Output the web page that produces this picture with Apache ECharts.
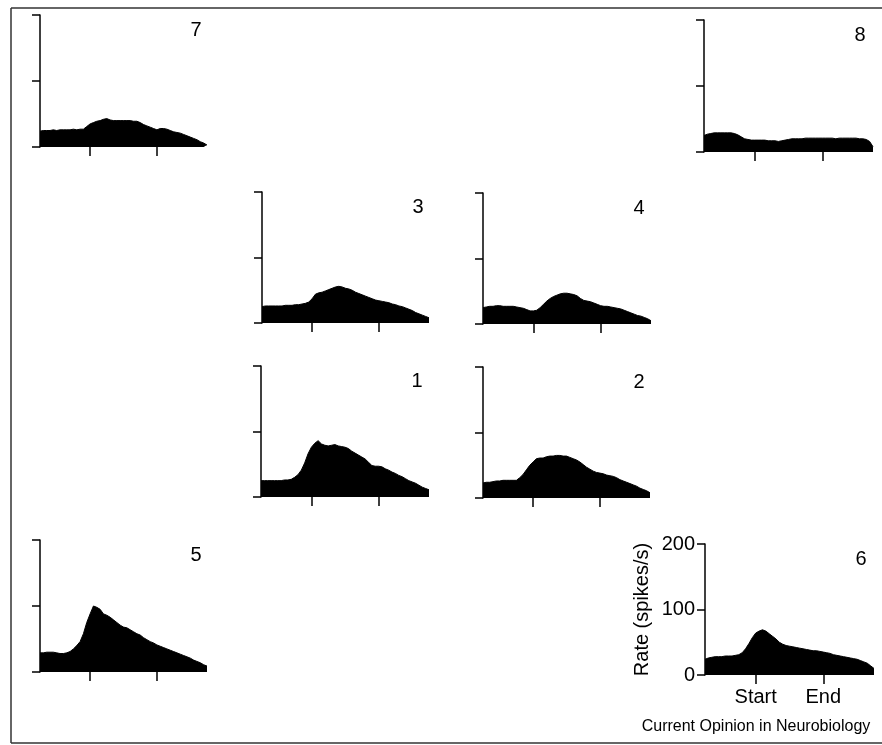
<!DOCTYPE html>
<html>
<head>
<meta charset="utf-8">
<script src="https://cdn.jsdelivr.net/npm/echarts@6/dist/echarts.min.js"></script>
<style>
html,body{margin:0;padding:0;background:#fff;}
#chart{width:882px;height:745px;}
</style>
</head>
<body>
<div id="chart"></div>
<script>
// Time relative to movement (0 = Start, 1 = End)
const times = [-0.75,-0.7,-0.65,-0.6,-0.55,-0.5,-0.45,-0.4,-0.35,-0.3,-0.25,-0.2,-0.15,-0.1,-0.05,0,0.05,0.1,0.15,0.2,0.25,0.3,0.35,0.4,0.45,0.5,0.55,0.6,0.65,0.7,0.75,0.8,0.85,0.9,0.95,1,1.05,1.1,1.15,1.2,1.25,1.3,1.35,1.4,1.45,1.5,1.55,1.6,1.65,1.7,1.75];
const xTickValues = [0, 1];
const xTickLabels = ['Start', 'End'];
const yTicks = [0, 100, 200];
const panelNames = ['1','2','3','4','5','6','7','8'];

// Firing rate (spikes/s) per direction
const rate1 = [25,25,25,25,25,25,25,26,26,27,30,34,41,52,66,76,82,86,81,79,78,79,80,78,77,76,74,70,67,64,61,58,53,48,47,47,46,43,41,38,36,33,31,28,25,23,21,18,15,13,11];
const rate2 = [23,24,24,25,26,26,27,27,27,27,27,31,36,43,50,55,60,61,61,63,64,64,65,65,64,64,62,60,58,55,51,47,44,41,39,38,37,35,34,33,31,28,26,24,22,20,18,15,13,11,8];
const rate3 = [25,26,26,26,26,26,26,27,27,27,28,28,29,30,32,37,44,46,47,49,51,53,55,56,55,53,52,50,47,45,43,41,39,37,35,34,33,32,31,29,28,26,25,23,21,19,16,14,12,10,8];
const rate4 = [25,26,27,27,28,28,27,27,27,27,26,25,24,22,20,20,21,25,30,35,39,42,44,46,47,47,46,45,43,39,36,35,34,32,30,28,27,27,26,25,24,23,21,19,17,15,13,12,10,8,5];
const rate5 = [29,29,30,30,30,29,28,28,29,31,35,40,46,58,75,88,100,98,95,88,86,83,79,75,71,68,67,64,61,58,56,52,49,46,44,41,39,37,35,33,31,29,27,25,23,21,18,16,14,11,9];
const rate6 = [24,26,27,28,28,28,29,29,29,30,31,34,40,48,57,64,67,69,67,63,59,55,50,47,45,44,43,42,41,40,39,38,37,37,36,35,34,33,31,30,29,28,27,26,25,24,22,20,18,14,10];
const rate7 = [24,25,25,25,26,25,26,26,26,26,27,26,27,27,31,35,37,39,40,42,43,41,40,40,40,40,40,40,39,39,37,34,32,30,28,26,28,28,27,25,23,22,21,19,17,15,13,11,8,6,3];
const rate8 = [25,27,28,29,29,29,29,29,29,28,26,23,20,19,18,18,18,18,18,17,17,17,16,17,18,19,20,20,20,20,21,21,21,21,21,21,21,21,21,20,21,21,21,21,21,21,20,20,19,16,8];
const rates = [rate1, rate2, rate3, rate4, rate5, rate6, rate7, rate8];

// Layout (pixels) of each panel, in the same order as panelNames
const layout = [
  {left:261, top:366, width:168, height:131},
  {left:483, top:367, width:167, height:131},
  {left:262, top:192, width:167, height:131},
  {left:483, top:193, width:168, height:131},
  {left:40,  top:540, width:167, height:132},
  {left:705, top:544, width:169, height:131},
  {left:40,  top:15,  width:167, height:132},
  {left:704, top:20,  width:169, height:132}
];
const labeledPanel = '6';

const FONT = '"Liberation Sans", Arial, Helvetica, sans-serif';
const chart = echarts.init(document.getElementById('chart'), null, {renderer:'canvas'});

const grids = [], xAxes = [], yAxes = [], series = [], graphics = [];
panelNames.forEach((name, i) => {
  const L = layout[i];
  const lab = name === labeledPanel;
  grids.push({left:L.left, top:L.top, width:L.width, height:L.height, containLabel:false});
  xAxes.push({
    gridIndex:i, type:'value', min:times[0], max:times[times.length-1],
    axisLine:{show:false, onZero:false},
    splitLine:{show:false},
    axisTick:{show:true, customValues:xTickValues, length:9, lineStyle:{color:'#000', width:1.5}},
    axisLabel:{show:lab, customValues:xTickValues, margin:12, color:'#000', fontSize:20, fontFamily:FONT,
      formatter: v => xTickLabels[xTickValues.indexOf(v)] || ''}
  });
  yAxes.push({
    gridIndex:i, type:'value', min:yTicks[0], max:yTicks[yTicks.length-1], interval:yTicks[1]-yTicks[0],
    axisLine:{show:true, onZero:false, lineStyle:{color:'#000', width:1.5}},
    splitLine:{show:false},
    axisTick:{show:true, length:8, lineStyle:{color:'#000', width:1.5}},
    axisLabel:{show:lab, margin:10, color:'#000', fontSize:20, fontFamily:FONT},
    name: lab ? 'Rate (spikes/s)' : '',
    nameLocation:'middle', nameRotate:90, nameGap:53,
    nameTextStyle:{color:'#000', fontSize:20, fontFamily:FONT}
  });
  series.push({
    type:'line', xAxisIndex:i, yAxisIndex:i,
    data: times.map((t, k) => [t, rates[i][k]]),
    showSymbol:false, symbol:'none', silent:true,
    lineStyle:{color:'#000', width:1},
    areaStyle:{color:'#000', opacity:1},
    z:1
  });
  graphics.push({
    type:'text', x:L.left + 156, y:L.top + 15,
    style:{text:name, fill:'#000', font:'20px ' + FONT, align:'center', verticalAlign:'middle'}
  });
});

graphics.push({type:'text', x:756, y:727,
  style:{text:'Current Opinion in Neurobiology', fill:'#000', font:'16px ' + FONT, align:'center', verticalAlign:'middle'}});
// figure frame
graphics.push({type:'line', shape:{x1:11, y1:8, x2:882, y2:8}, style:{stroke:'#333', lineWidth:1.5}});
graphics.push({type:'line', shape:{x1:11, y1:8, x2:11, y2:743}, style:{stroke:'#333', lineWidth:1.5}});
graphics.push({type:'line', shape:{x1:11, y1:743, x2:882, y2:743}, style:{stroke:'#333', lineWidth:1.5}});

chart.setOption({
  animation:false,
  backgroundColor:'#fff',
  textStyle:{fontFamily:FONT},
  grid:grids, xAxis:xAxes, yAxis:yAxes, series:series, graphic:graphics
});
</script>
</body>
</html>
